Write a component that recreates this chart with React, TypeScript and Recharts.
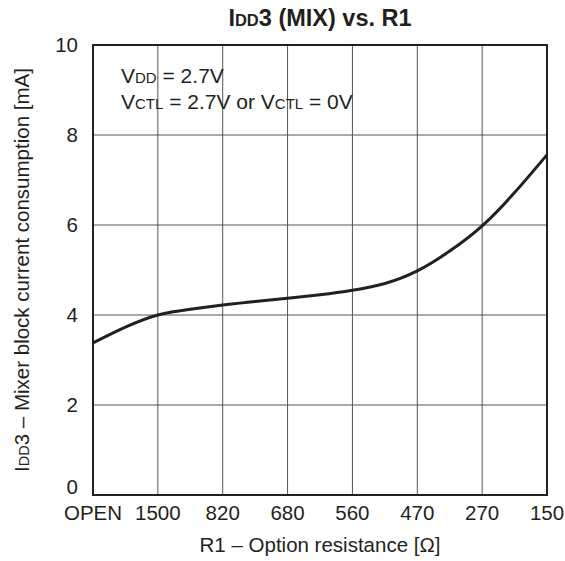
import React from "react";
import {
  CartesianGrid,
  Line,
  LineChart,
  ReferenceArea,
  XAxis,
  YAxis,
} from "recharts";

// resistance categories along the x axis (evenly spaced)
const r1Labels = ["OPEN", "1500", "820", "680", "560", "470", "270", "150"];
const r1Ticks = [0, 1, 2, 3, 4, 5, 6, 7];
const yTicks = [0, 2, 4, 6, 8, 10];

// curve, at whole and half category steps
const samplePos = [0, 0.5, 1, 1.5, 2, 2.5, 3, 3.5, 4, 4.5, 5, 5.5, 6, 6.5, 7];
const idd3 = [3.38, 3.73, 4.0, 4.13, 4.22, 4.3, 4.37, 4.45, 4.55, 4.7, 4.98, 5.42, 5.98, 6.72, 7.56];

const data = samplePos.map((x, i) => ({ x, idd3: idd3[i] }));

const font = "'Liberation Sans', Arial, sans-serif";
const ink = "#231f20";
const fs = 20.5;
const sub = 14.5;

// y tick; the "0" sits a little above the axis so it clears "OPEN"
const YTick = (props: any) => {
  const { x, y, payload } = props;
  const dy = payload.value === 0 ? -8 : 0;
  return (
    <text x={x} y={y + dy} dy="0.355em" textAnchor="end" fill={ink} fontSize={fs} fontFamily={font}>
      {payload.value}
    </text>
  );
};

export default function App() {
  return (
    <div style={{ position: "absolute", left: 0, top: 0, width: 565, height: 561, background: "#fff" }}>
      <LineChart
        width={565}
        height={561}
        data={data}
        margin={{ top: 45, right: 18, bottom: 0, left: 0 }}
      >
        <CartesianGrid stroke="#555" strokeWidth={1} />
        <XAxis
          type="number"
          dataKey="x"
          domain={[0, 7]}
          ticks={r1Ticks}
          tickFormatter={(v: number) => r1Labels[v]}
          interval={0}
          height={66}
          tickLine={false}
          axisLine={false}
          tickSize={0}
          tickMargin={10}
          tick={{ fill: ink, fontSize: fs, fontFamily: font }}
        />
        <YAxis
          type="number"
          domain={[0, 10]}
          ticks={yTicks}
          width={93}
          tickLine={false}
          axisLine={false}
          tickSize={0}
          tickMargin={15}
          tick={<YTick />}
        />
        <ReferenceArea x1={0} x2={7} y1={0} y2={10} fill="none" stroke={ink} strokeWidth={2} />
        <Line
          type="natural"
          dataKey="idd3"
          stroke={ink}
          strokeWidth={3}
          dot={false}
          isAnimationActive={false}
        />
      </LineChart>
      <svg
        width={565}
        height={561}
        style={{ position: "absolute", left: 0, top: 0, pointerEvents: "none" }}
        fontFamily={font}
        fill={ink}
      >
        <text x={320} y={26} textAnchor="middle" fontSize={23.5} fontWeight="bold">
          I<tspan fontSize={16.5}>DD</tspan>3 (MIX) vs. R1
        </text>
        <text x={121} y={83} fontSize={21}>
          V<tspan fontSize={15}>DD</tspan> = 2.7V
        </text>
        <text x={121} y={109} fontSize={21}>
          V<tspan fontSize={15}>CTL</tspan> = 2.7V or V<tspan fontSize={15}>CTL</tspan> = 0V
        </text>
        <text x={320} y={552} textAnchor="middle" fontSize={fs}>
          R1 – Option resistance [Ω]
        </text>
        <text
          x={0}
          y={0}
          transform="translate(29,270) rotate(-90)"
          textAnchor="middle"
          fontSize={fs}
        >
          I<tspan fontSize={sub}>DD</tspan>3 – Mixer block current consumption [mA]
        </text>
      </svg>
    </div>
  );
}
